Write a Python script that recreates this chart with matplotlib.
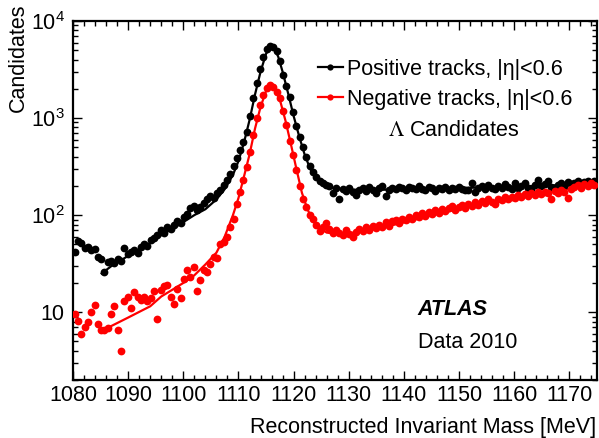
import matplotlib
matplotlib.use('Agg')
import numpy as np
import matplotlib.pyplot as plt
from matplotlib.ticker import MultipleLocator, LogLocator, FixedLocator, FixedFormatter, NullFormatter

plt.rcParams['font.family'] = ['Liberation Sans', 'DejaVu Sans']
plt.rcParams['mathtext.fontset'] = 'stix'

# bin centres: 0.6 MeV bins starting at 1080
BIN_START = 1080.3
BIN_WIDTH = 0.6

# positive tracks (black points)
pos_counts = [
    42, 54, 52, 46, 47, 44, 45, 37, 35, 26,
    33, 34, 32, 35, 34, 46, 40, 42, 44, 41,
    47, 50, 48, 55, 58, 63, 70, 66, 75, 72,
    80, 86, 83, 95, 102, 118, 125, 112, 120, 132,
    145, 158, 150, 170, 182, 205, 230, 265, 320, 390,
    470, 560, 720, 1050, 1600, 2300, 3200, 4300, 5100, 5500,
    5400, 4900, 3900, 2800, 2150, 1650, 1150, 820, 640, 500,
    400, 320, 275, 245, 225, 215, 205, 198, 168, 190,
    148, 185, 178, 192, 175, 160, 182, 188, 176, 195,
    183, 170, 190, 198, 158, 180, 192, 185, 196, 188,
    180, 194, 190, 185, 198, 187, 182, 195, 188, 178,
    192, 186, 193, 181, 190, 184, 196, 187, 180, 183,
    215, 175, 190, 198, 185, 205, 192, 184, 200, 188,
    208, 195, 186, 212, 190, 198, 215, 192, 185, 205,
    232, 198, 210, 225, 196, 190, 205, 212, 200, 220,
    208, 215, 225, 205, 218, 222, 210, 224,
]

# negative tracks (red points)
neg_counts = [
    9.5, 8.2, 6.0, 7.0, 8.0, 10.0, 11.8, 7.6, 6.6, 6.5,
    6.8, 9.6, 11.5, 6.5, 4.0, 13.0, 14.2, 11.0, 16.0, 14.2,
    13.5, 14.5, 13.0, 14.0, 16.5, 8.6, 17.0, 18.5, 19.0, 14.5,
    12.0, 17.5, 14.0, 22.0, 27.0, 23.0, 29.0, 16.5, 21.5, 27.0,
    26.0, 31.0, 37.0, 36.0, 50.0, 53.0, 60.0, 75.0, 92.0, 130.0,
    175.0, 230.0, 310.0, 450.0, 670.0, 1000.0, 1370.0, 1740.0, 2020.0, 2190.0,
    2100.0, 1860.0, 1600.0, 1170.0, 850.0, 580.0, 420.0, 290.0, 200.0, 145.0,
    122.0, 100.0, 92.0, 80.0, 68.0, 76.0, 82.0, 72.0, 65.0, 70.0,
    66.0, 62.0, 70.0, 64.0, 60.0, 67.0, 72.0, 68.0, 75.0, 70.0,
    78.0, 74.0, 80.0, 76.0, 84.0, 78.0, 86.0, 90.0, 82.0, 92.0,
    88.0, 96.0, 92.0, 100.0, 95.0, 105.0, 99.0, 108.0, 102.0, 112.0,
    106.0, 115.0, 110.0, 118.0, 125.0, 114.0, 120.0, 128.0, 118.0, 130.0,
    124.0, 135.0, 128.0, 140.0, 132.0, 145.0, 138.0, 130.0, 148.0, 142.0,
    152.0, 146.0, 155.0, 150.0, 160.0, 153.0, 165.0, 158.0, 168.0, 160.0,
    172.0, 165.0, 175.0, 168.0, 148.0, 178.0, 170.0, 182.0, 174.0, 150.0,
    185.0, 195.0, 205.0, 190.0, 210.0, 200.0, 215.0, 205.0,
]

# fit curves
pos_fit_x = [1085.2, 1087, 1090, 1093, 1096, 1099, 1102, 1104, 1106, 1107.5,
             1109, 1110, 1111, 1112, 1113, 1114, 1115, 1115.8, 1116.5, 1117.2,
             1118, 1119, 1120, 1121, 1122, 1123, 1124, 1125, 1127, 1130,
             1135, 1140, 1145, 1150, 1155, 1160, 1165, 1170, 1175]
pos_fit_y = [25, 30, 38, 47, 62, 78, 100, 115, 145, 185,
             260, 360, 560, 950, 1750, 3000, 4600, 5300, 5200, 4300,
             3000, 1800, 1050, 650, 420, 300, 240, 210, 190, 183,
             182, 184, 187, 190, 193, 197, 201, 205, 209]

neg_fit_x = [1086.3, 1090, 1094, 1096, 1098, 1100, 1102, 1104, 1106, 1107.5,
             1109, 1110, 1111, 1112, 1113, 1114, 1115, 1115.8, 1116.5, 1117.5,
             1118.5, 1119.5, 1120.5, 1121.5, 1122.5, 1123.5, 1124.5, 1126, 1128, 1130,
             1135, 1140, 1145, 1150, 1155, 1160, 1165, 1170, 1175]
neg_fit_y = [6.9, 8.8, 11.5, 14.5, 17.0, 20, 24, 31, 41, 60,
             100, 150, 250, 420, 780, 1300, 1900, 2150, 2050, 1550,
             950, 540, 300, 170, 115, 88, 74, 66, 64, 65,
             72, 84, 99, 116, 133, 150, 168, 187, 205]

x_major = [1080, 1090, 1100, 1110, 1120, 1130, 1140, 1150, 1160, 1170]
y_major = [10, 100, 1000, 10000]
y_labels = ['10', r'$\mathdefault{10^{2}}$', r'$\mathdefault{10^{3}}$', r'$\mathdefault{10^{4}}$']

FS = 15.5

fig = plt.figure(figsize=(5.99, 4.38), dpi=100)
ax = fig.add_axes([73 / 599, 1 - 380 / 438, 524 / 599, 359 / 438])

pos_x = BIN_START + BIN_WIDTH * np.arange(len(pos_counts))
neg_x = BIN_START + BIN_WIDTH * np.arange(len(neg_counts))

ax.plot(pos_fit_x, pos_fit_y, color='black', lw=1.6, zorder=2)
ax.plot(neg_fit_x, neg_fit_y, color='#ff0000', lw=1.6, zorder=2)
ax.plot(pos_x, pos_counts, 'o', color='black', ms=5.6, mew=0, zorder=3)
ax.plot(neg_x, neg_counts, 'o', color='#ff0000', ms=5.6, mew=0, zorder=3)

ax.set_yscale('log')
ax.set_xlim(1080, 1175)
ax.set_ylim(2, 1e4)

ax.xaxis.set_major_locator(FixedLocator(x_major))
ax.xaxis.set_minor_locator(MultipleLocator(2))
ax.yaxis.set_major_locator(FixedLocator(y_major))
ax.yaxis.set_major_formatter(FixedFormatter(y_labels))
ax.yaxis.set_minor_locator(LogLocator(base=10, subs=np.arange(2, 10)))
ax.yaxis.set_minor_formatter(NullFormatter())

ax.tick_params(which='both', direction='in', top=True, right=True, labelsize=FS, width=1.0)
ax.tick_params(which='major', length=6.5)
ax.tick_params(which='minor', length=3.5)
ax.tick_params(axis='x', pad=3.5)
ax.tick_params(axis='y', pad=6)
for s in ax.spines.values():
    s.set_linewidth(1.6)

fig.text(0.996, 1 - 427 / 438, 'Reconstructed Invariant Mass [MeV]', ha='right', va='center', fontsize=FS)
fig.text(18 / 599, 1 - 4 / 438, 'Candidates', rotation=90, ha='center', va='top', fontsize=FS)

h1, = ax.plot([], [], '-o', color='black', lw=1.6, ms=4.5, mew=0)
h2, = ax.plot([], [], '-o', color='#ff0000', lw=1.6, ms=4.5, mew=0)
ax.legend([h1, h2], ['Positive tracks, |\u03b7|<0.6', 'Negative tracks, |\u03b7|<0.6'],
          loc='upper left', bbox_to_anchor=(0.4676, 0.895), frameon=False, fontsize=FS,
          borderpad=0, borderaxespad=0, handlelength=1.15, handletextpad=0.2,
          labelspacing=0.42)
ax.text(0.601, 0.696, r'$\Lambda$ Candidates', transform=ax.transAxes, fontsize=FS,
        ha='left', va='center')

ax.text(0.658, 0.195, 'ATLAS', transform=ax.transAxes, fontsize=FS, fontweight='bold',
        fontstyle='italic', ha='left', va='center')
ax.text(0.658, 0.105, 'Data 2010', transform=ax.transAxes, fontsize=FS, ha='left', va='center')

fig.savefig('out.png', dpi=100)
